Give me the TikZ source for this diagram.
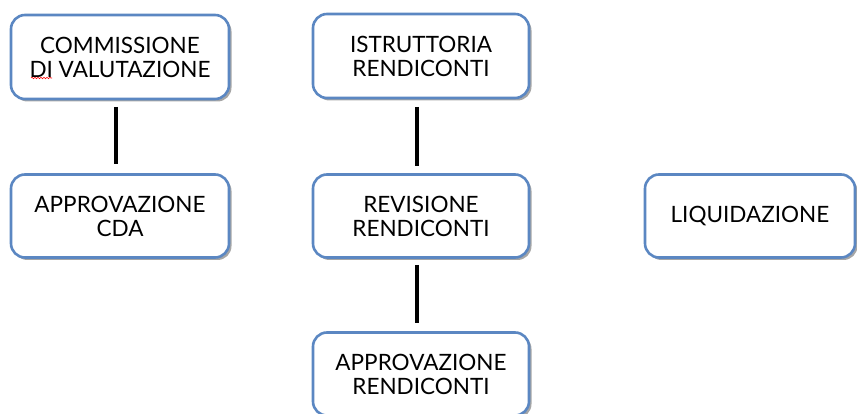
\documentclass[tikz,border=0pt]{standalone}
\usepackage{fontspec}
\setmainfont{Lato}
\usetikzlibrary{shadows,decorations.pathmorphing}
\definecolor{boxblue}{HTML}{5B87C2}
\tikzset{
  boxstyle/.style={draw=boxblue, line width=2.6pt, rounded corners=14pt, fill=white,
    drop shadow={shadow xshift=2.5pt, shadow yshift=-2.5pt, fill=black, opacity=0.35},
    align=center, font=\fontsize{22.5}{24}\selectfont, inner sep=0pt},
  link/.style={line width=3.4pt, black}
}
\begin{document}
\begin{tikzpicture}[x=1pt,y=-1pt]
\useasboundingbox (0,0) rectangle (857,414);
\node[boxstyle, minimum width=218pt, minimum height=84pt] (comm) at (120,57) {COMMISSIONE\\DI VALUTAZIONE};
\node[boxstyle, minimum width=218pt, minimum height=83pt] (cda) at (120,216) {APPROVAZIONE\\CDA};
\node[boxstyle, minimum width=216pt, minimum height=84pt] (istr) at (421,56) {ISTRUTTORIA\\RENDICONTI};
\node[boxstyle, minimum width=216pt, minimum height=83pt] (rev) at (421,216) {REVISIONE\\RENDICONTI};
\node[boxstyle, minimum width=210pt, minimum height=83pt] (liq) at (750,216) {LIQUIDAZIONE};
\node[boxstyle, minimum width=216pt, minimum height=83pt] (appr) at (421,374) {APPROVAZIONE\\RENDICONTI};
\coordinate (c1) at (116,107); \coordinate (c2) at (116,164);
\coordinate (c3) at (417,107); \coordinate (c4) at (417,166);
\coordinate (c5) at (417,265); \coordinate (c6) at (417,323);
\draw[link] (c1) -- (c2);
\draw[link] (c3) -- (c4);
\draw[link] (c5) -- (c6);
\draw[red, line width=0.6pt, decorate, decoration={snake, amplitude=0.7pt, segment length=3pt}] (31,78) -- (52,78);
\end{tikzpicture}
\end{document}
